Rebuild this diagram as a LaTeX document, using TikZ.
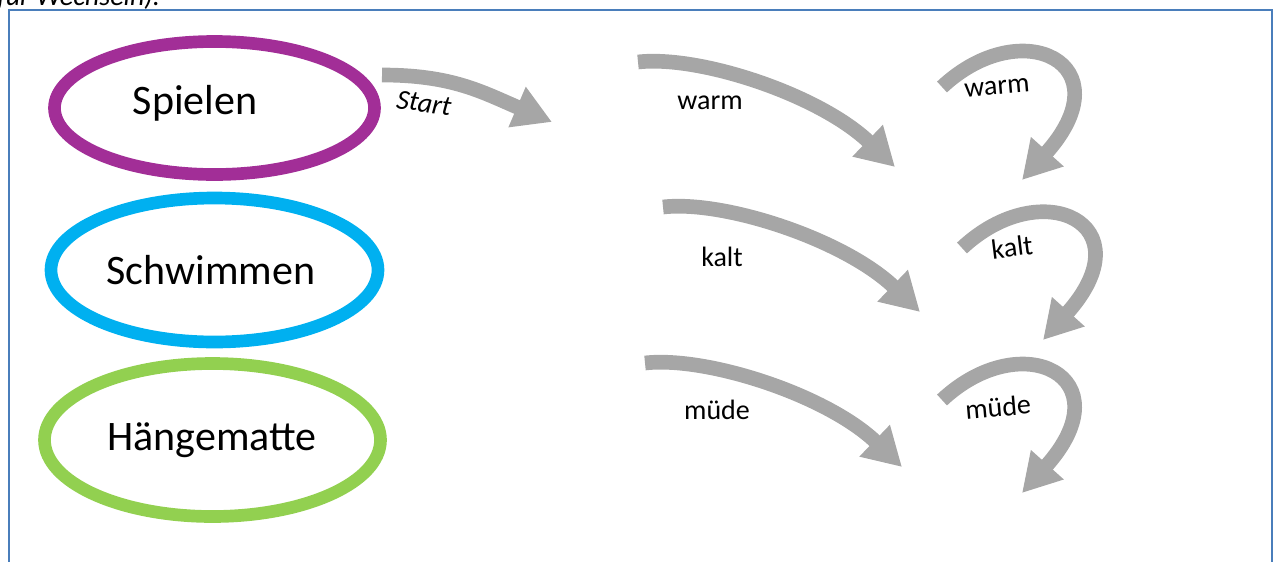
\documentclass[tikz,border=0pt]{standalone}
\usepackage{fontspec}
\setmainfont{Carlito}
\usetikzlibrary{arrows.meta,shapes.geometric}
\definecolor{spielcol}{HTML}{A22E97}
\definecolor{schwimmcol}{HTML}{00B0F0}
\definecolor{haengecol}{HTML}{92D050}
\definecolor{pfeil}{HTML}{A6A6A6}
\definecolor{rahmen}{HTML}{4A7EBB}
\tikzset{
  oval/.style={ellipse, draw=#1, line width=9.5pt, inner sep=0pt},
  bigtext/.style={font=\fontsize{31.5}{36}\selectfont},
  lbl/.style={font=\fontsize{21}{25}\selectfont},
  bogen/.style={draw=pfeil, line width=11pt, -{Triangle[length=28.5pt,width=31pt]}},
}

\begin{document}
\begin{tikzpicture}[x=0.75pt,y=-0.75pt]
    \useasboundingbox (0,0) rectangle (1277,561);
    \clip (0,0) rectangle (1277,561);

    % Kopfzeile (abgeschnitten) und Rahmen
    \node[lbl, anchor=base west, inner sep=0pt] (kopf) at (-3,5) {\itshape für Wechseln).};
    \draw[rahmen, line width=1.8pt] (9,10) rectangle (1272,600);

    % Ovale
    \node[oval=spielcol, minimum width=240pt, minimum height=99.75pt] (spielen) at (214.5,108) {};
    \node[oval=schwimmcol, minimum width=245.25pt, minimum height=108pt] (schwimmen) at (214.5,270) {};
    \node[oval=haengecol, minimum width=252pt, minimum height=114.75pt] (haenge) at (212.5,440) {};

    \node[bigtext] (spielen-txt) at (195,103) {Spielen};
    \node[bigtext] (schwimmen-txt) at (211,270) {Schwimmen};
    \node[bigtext] (haenge-txt) at (212,440) {Hängematte};

    % Pfeile
    \coordinate (start-a) at (382,75);
    \coordinate (start-b) at (552,122);
    \coordinate (warm-a) at (638,62);
    \coordinate (warm-b) at (895,167);
    \coordinate (kalt-a) at (663,207);
    \coordinate (kalt-b) at (920,312);
    \coordinate (muede-a) at (645,363);
    \coordinate (muede-b) at (902,467);
    \coordinate (warm-c) at (942,87);
    \coordinate (warm-d) at (1022,180);
    \coordinate (kalt-c) at (962,248);
    \coordinate (kalt-d) at (1043,340);
    \coordinate (muede-c) at (942,400);
    \coordinate (muede-d) at (1022,493);

    \draw[bogen] (start-a) .. controls +(70,0) and +(-70,-30) .. (start-b);
    \draw[bogen] (warm-a) .. controls +(62,-7) and +(-75,-72) .. (warm-b);
    \draw[bogen] (kalt-a) .. controls +(62,-7) and +(-75,-72) .. (kalt-b);
    \draw[bogen] (muede-a) .. controls +(62,-7) and +(-75,-72) .. (muede-b);
    \draw[bogen] (warm-c) .. controls +(80,-75) and +(104,-116) .. (warm-d);
    \draw[bogen] (kalt-c) .. controls +(80,-75) and +(104,-116) .. (kalt-d);
    \draw[bogen] (muede-c) .. controls +(80,-75) and +(104,-116) .. (muede-d);

    % Beschriftungen
    \node[lbl, rotate=-8] (start-lbl) at (424,103) {\itshape Start};
    \node[lbl] (warm-lbl) at (710,103) {warm};
    \node[lbl] (kalt-lbl) at (722,257) {kalt};
    \node[lbl] (muede-lbl) at (717,410) {müde};
    \node[lbl, rotate=5] (warm-lbl2) at (997,88) {warm};
    \node[lbl, rotate=7] (kalt-lbl2) at (1012,247) {kalt};
    \node[lbl, rotate=5] (muede-lbl2) at (998,407) {müde};
  \end{tikzpicture}
\end{document}
